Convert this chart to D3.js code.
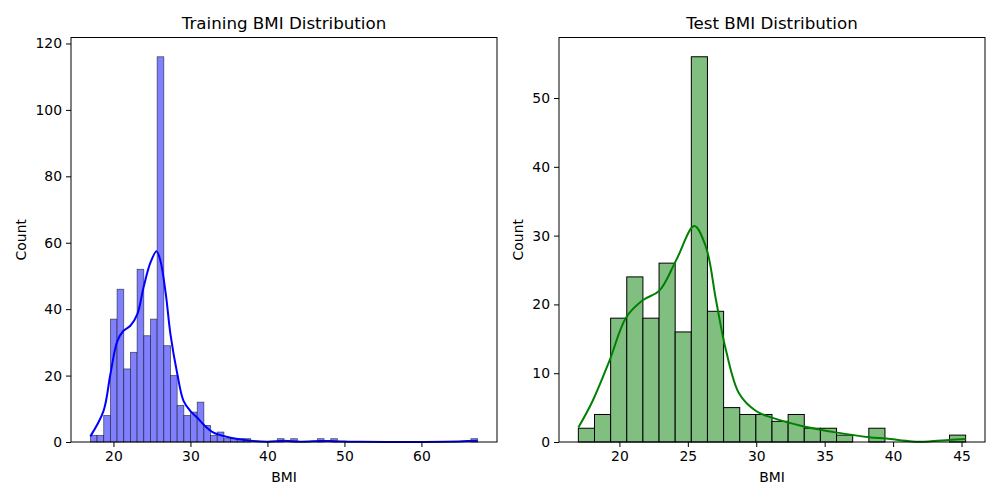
<!DOCTYPE html>
<html>
<head>
<meta charset="utf-8">
<script src="https://cdn.jsdelivr.net/npm/d3@7"></script>
<style>
  body { margin: 0; background: #fff; }
  svg text { font-family: "DejaVu Sans", sans-serif; fill: #000; }
</style>
</head>
<body>
<div id="chart"></div>
<script>
// training histogram: 58 bins from 17.0 to 67.3
const trainRange = [17.0, 67.3];
const trainCounts = [
  2, 2, 8, 37, 46, 22, 27, 52, 32, 37, 116, 29, 20, 11, 8, 9, 12, 5, 2, 3,
  1, 1, 1, 1, 0, 0, 0, 0, 1, 0, 1, 0, 0, 0, 1, 0, 1, 0, 0, 0,
  0, 0, 0, 0, 0, 0, 0, 0, 0, 0, 0, 0, 0, 0, 0, 0, 0, 1,
];
// kde curve (bmi, count)
const trainKdeX = [17.0, 18.7, 19.6, 20.5, 21.3, 22.2, 23.1, 23.9, 24.8, 25.6, 26.1, 26.8, 27.4, 28.3, 29.1, 30.0, 30.9, 31.7, 33.0, 35.2, 37.8, 40.0, 42.1, 44.3, 47.0, 48.7, 52.0, 58.0, 63.0, 67.3];
const trainKdeY = [1.7, 9.3, 20.4, 30.4, 33.5, 35.0, 38.5, 46.5, 54.0, 57.4, 54.6, 44.5, 32.5, 20.4, 12.4, 9.3, 7.3, 5.3, 2.8, 1.3, 0.4, 0.1, 0.35, 0.1, 0.3, 0.25, 0.05, 0.02, 0.05, 0.35];

// test histogram: 24 bins from 17.0 to 45.3
const testRange = [17.0, 45.3];
const testCounts = [2, 4, 18, 24, 18, 26, 16, 56, 19, 5, 4, 4, 3, 4, 2, 2, 1, 0, 2, 0, 0, 0, 0, 1];
const testKdeX = [17.0, 18.05, 19.27, 20.49, 21.7, 22.92, 24.14, 25.47, 26.33, 27.06, 27.79, 28.76, 29.98, 31.2, 33.4, 35.8, 38.25, 39.5, 41.4, 42.6, 44.1, 45.3];
const testKdeY = [2.1, 6.0, 11.8, 18.1, 20.6, 22.0, 26.4, 31.4, 28.3, 20.6, 13.3, 7.0, 4.5, 3.5, 2.3, 1.4, 0.7, 0.5, 0.08, 0.08, 0.3, 0.45];

const yTicksTrain = [0, 20, 40, 60, 80, 100, 120];
const xTicksTrain = [20, 30, 40, 50, 60];
const yTicksTest = [0, 10, 20, 30, 40, 50];
const xTicksTest = [20, 25, 30, 35, 40, 45];

const svg = d3.select("#chart").append("svg").attr("width", 1000).attr("height", 500);

const makeBins = (range, counts) => {
  const w = (range[1] - range[0]) / counts.length;
  return counts.map((c, i) => ({ x0: range[0] + i * w, x1: range[0] + (i + 1) * w, c }));
};

const drawPanel = (opt) => {
  const { left, right, top, bottom } = opt.box;
  const pad = (opt.range[1] - opt.range[0]) * 0.05;
  const x = d3.scaleLinear().domain([opt.range[0] - pad, opt.range[1] + pad]).range([left, right]);
  const y = d3.scaleLinear().domain([0, d3.max(opt.counts) * 1.05]).range([bottom, top]);
  const g = svg.append("g");

  g.selectAll("rect.bar")
    .data(makeBins(opt.range, opt.counts).filter((d) => d.c > 0))
    .enter()
    .append("rect")
    .attr("class", "bar")
    .attr("x", (d) => x(d.x0))
    .attr("y", (d) => y(d.c))
    .attr("width", (d) => x(d.x1) - x(d.x0))
    .attr("height", (d) => y(0) - y(d.c))
    .attr("fill", opt.fill)
    .attr("stroke", opt.edge)
    .attr("stroke-width", opt.edgeWidth);

  const line = d3.line().x((d) => x(d[0])).y((d) => y(d[1])).curve(d3.curveCatmullRom.alpha(0.5));
  g.append("path")
    .datum(opt.kdeX.map((v, i) => [v, opt.kdeY[i]]))
    .attr("d", line)
    .attr("fill", "none")
    .attr("stroke", opt.lineColor)
    .attr("stroke-width", 2);

  g.append("rect")
    .attr("x", left).attr("y", top)
    .attr("width", right - left).attr("height", bottom - top)
    .attr("fill", "none").attr("stroke", "#000").attr("stroke-width", 1);

  const xAxis = g.append("g").attr("transform", `translate(0,${bottom})`)
    .call(d3.axisBottom(x).tickValues(opt.xTicks).tickSize(5).tickPadding(4).tickFormat(d3.format("d")));
  const yAxis = g.append("g").attr("transform", `translate(${left},0)`)
    .call(d3.axisLeft(y).tickValues(opt.yTicks).tickSize(5).tickPadding(4).tickFormat(d3.format("d")));
  [xAxis, yAxis].forEach((a) => {
    a.select(".domain").remove();
    a.selectAll("text").style("font-size", "13.9px").style("font-family", "DejaVu Sans");
    a.selectAll("line").attr("stroke", "#000");
  });

  g.append("text")
    .attr("x", (left + right) / 2).attr("y", top - 9)
    .attr("text-anchor", "middle").style("font-size", "16.7px")
    .text(opt.title);
  g.append("text")
    .attr("x", (left + right) / 2).attr("y", 482)
    .attr("text-anchor", "middle").style("font-size", "13.9px")
    .text("BMI");
  g.append("text")
    .attr("transform", `translate(${opt.countX},${(top + bottom) / 2}) rotate(-90)`)
    .attr("text-anchor", "middle").style("font-size", "13.9px")
    .text("Count");
};

drawPanel({
  box: { left: 71, right: 497, top: 37.5, bottom: 442 },
  range: trainRange, counts: trainCounts, kdeX: trainKdeX, kdeY: trainKdeY,
  fill: "rgb(128,128,255)", edge: "rgba(0,0,0,0.6)", edgeWidth: 0.8, lineColor: "blue",
  xTicks: xTicksTrain, yTicks: yTicksTrain, title: "Training BMI Distribution", countX: 26,
});

drawPanel({
  box: { left: 559, right: 985, top: 37.5, bottom: 442 },
  range: testRange, counts: testCounts, kdeX: testKdeX, kdeY: testKdeY,
  fill: "rgb(128,191,128)", edge: "#000", edgeWidth: 1, lineColor: "green",
  xTicks: xTicksTest, yTicks: yTicksTest, title: "Test BMI Distribution", countX: 523,
});
</script>
</body>
</html>
